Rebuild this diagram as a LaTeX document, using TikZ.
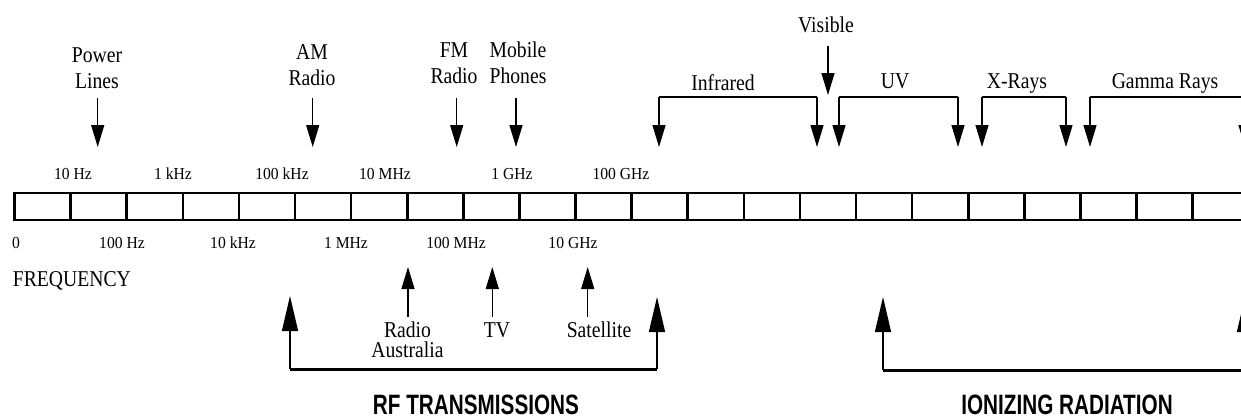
\documentclass[tikz,border=0pt]{standalone}
\usepackage{fontspec}
\setmainfont{Liberation Serif}
\newfontfamily\lblfont[FakeStretch=0.87]{Liberation Serif}
\newfontfamily\freqfont[FakeStretch=0.93]{Liberation Serif}
\newfontfamily\bandfont[FakeStretch=0.74]{Liberation Sans Bold}
\usetikzlibrary{arrows.meta}

\begin{document}
\begin{tikzpicture}[
      x=0.5pt, y=-0.5pt,
      lbl/.style={font=\lblfont\fontsize{11.3}{13}\selectfont, inner sep=0pt, align=center, anchor=base},
      freq/.style={font=\freqfont\fontsize{8.4}{10}\selectfont, inner sep=0pt, anchor=base},
      band/.style={font=\bandfont\fontsize{14}{16}\selectfont, inner sep=0pt, anchor=base},
      ptr/.style={-{Triangle[width=6.5pt,length=11pt]}, line width=0.65pt},
      bigptr/.style={-{Triangle[width=8pt,length=17.5pt]}, line width=0.65pt},
      barline/.style={line width=1.3pt},
      span/.style={line width=0.65pt}
    ]
      \clip (0,0) rectangle (1241,418);

      % frequency bar
      \draw[barline] (14.5,193) rectangle (1265,220);
      \foreach \k in {1,...,22} {
        \pgfmathsetmacro\xcoord{14.5 + \k*56.1}
        \draw[barline] (\xcoord,193) -- (\xcoord,220);
      }

      % scale labels above and below the bar
      \foreach \txt/\x [count=\j] in {10 Hz/73, 1 kHz/173, 100 kHz/282, 10 MHz/385, 1 GHz/512, 100 GHz/621}
        \node[freq] (up\j) at (\x,179) {\txt};
      \foreach \txt/\x [count=\j] in {0/16, 100 Hz/122, 10 kHz/233, 1 MHz/346, 100 MHz/456, 10 GHz/573}
        \node[freq] (dn\j) at (\x,248) {\txt};
      \node[lbl, anchor=base west] (freqlbl) at (12.5,286) {FREQUENCY};

      % single pointers from above
      \node[lbl] (pl) at (97,88) {Power\\Lines};
      \node[lbl] (am) at (312,85) {AM\\Radio};
      \node[lbl] (fm) at (454,83) {FM\\Radio};
      \node[lbl] (mp) at (518,83) {Mobile\\Phones};
      \foreach \name/\x in {pl/97.7, am/312.7, fm/456.7, mp/516} {
        \coordinate (\name-top) at (\x,98);
        \coordinate (\name-tip) at (\x,147);
        \draw[ptr] (\name-top) -- (\name-tip);
      }

      % visible light
      \node[lbl] (vis) at (826,32) {Visible};
      \coordinate (vis-top) at (828,46);
      \coordinate (vis-tip) at (828,95);
      \draw[ptr] (vis-top) -- (vis-tip);

      % bands with brackets
      \coordinate (tiprow) at (0,147);
      \node[lbl] (ir) at (723,90) {Infrared};
      \node[lbl] (uv) at (895,88) {UV};
      \node[lbl] (xr) at (1017,88) {X-Rays};
      \node[lbl] (gr) at (1165,88) {Gamma Rays};
      \foreach \name/\xa/\xb in {ir/659/817, uv/839/958, xr/982/1066, gr/1090/1245} {
        \coordinate (\name-l) at (\xa,97);
        \coordinate (\name-r) at (\xb,97);
        \draw[span] (\name-l) -- (\name-r);
        \draw[ptr] (\name-l) -- (\name-l |- tiprow);
        \draw[ptr] (\name-r) -- (\name-r |- tiprow);
      }

      % pointers from below
      \node[lbl, font=\lblfont\fontsize{11.3}{10}\selectfont] (ra) at (407.5,357) {Radio\\Australia};
      \node[lbl] (tv) at (497,337) {TV};
      \node[lbl] (sat) at (599,337) {Satellite};
      \foreach \name/\x in {ra/408, tv/492.3, sat/587.7} {
        \coordinate (\name-foot) at (\x,317);
        \coordinate (\name-tip) at (\x,267);
        \draw[ptr] (\name-foot) -- (\name-tip);
      }

      % RF transmissions
      \coordinate (rf-l) at (290,369);
      \coordinate (rf-r) at (657,369);
      \draw[line width=1.5pt] (rf-l) -- (rf-r);
      \draw[bigptr] (rf-l) -- (290,296);
      \draw[bigptr] (rf-r) -- (657,297);
      \node[band] (rf) at (476,414) {RF TRANSMISSIONS};

      % ionizing radiation
      \coordinate (ion-l) at (883,370);
      \coordinate (ion-r) at (1245,370);
      \draw[line width=1.5pt] (ion-l) -- (ion-r);
      \draw[bigptr] (ion-l) -- (883,297);
      \draw[bigptr] (ion-r) -- (1245,297);
      \node[band] (ion) at (1067,414) {IONIZING RADIATION};
    \end{tikzpicture}
\end{document}
